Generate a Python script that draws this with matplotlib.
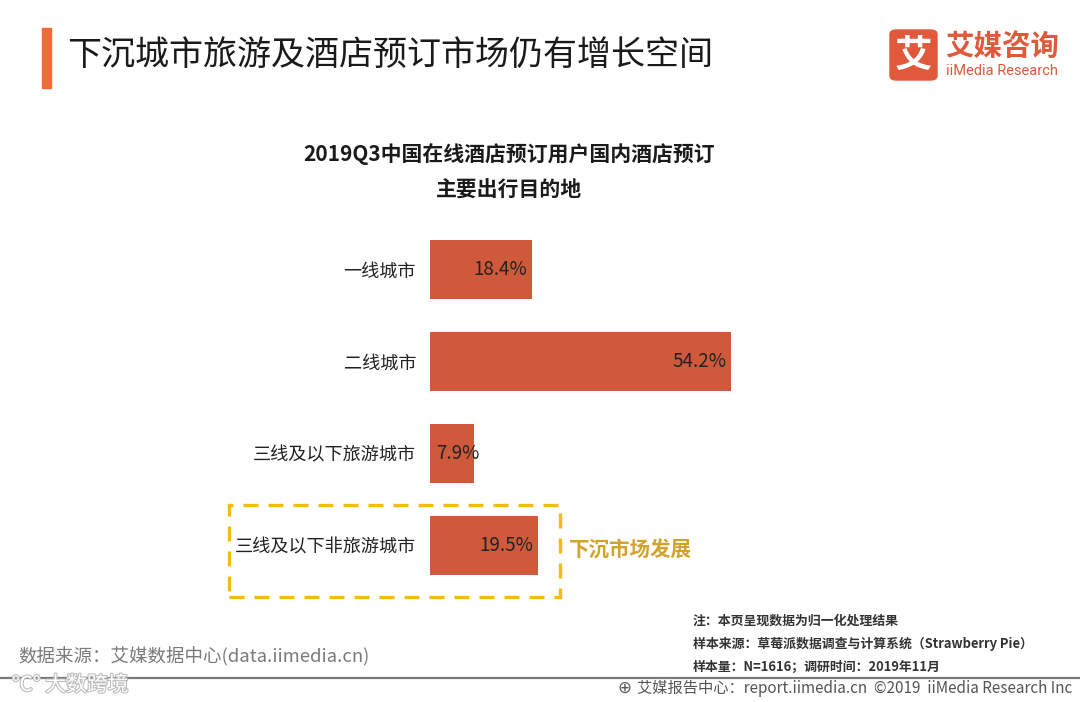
import matplotlib
matplotlib.use("Agg")
import matplotlib.pyplot as plt
from matplotlib.patches import Rectangle, FancyBboxPatch
from matplotlib.transforms import offset_copy
import matplotlib.patheffects as pe

plt.rcParams['font.family'] = ['Noto Sans CJK SC', 'DejaVu Sans']

categories = ['一线城市', '二线城市', '三线及以下旅游城市', '三线及以下非旅游城市']
values = [18.4, 54.2, 7.9, 19.5]
value_labels = ['18.4%', '54.2%', '7.9%', '19.5%']

main_title = '下沉城市旅游及酒店预订市场仍有增长空间'
chart_title = '2019Q3中国在线酒店预订用户国内酒店预订\n主要出行目的地'
highlight_text = '下沉市场发展'
notes = ['注：本页呈现数据为归一化处理结果',
         '样本来源：草莓派数据调查与计算系统（Strawberry Pie）',
         '样本量：N=1616；调研时间：2019年11月']
source = '数据来源：艾媒数据中心(data.iimedia.cn)'
footer = '艾媒报告中心：report.iimedia.cn  ©2019  iiMedia Research Inc'

W, H = 1080, 702
fig = plt.figure(figsize=(W / 100, H / 100), dpi=100)
fig.patch.set_facecolor('white')


def fx(x):
    return x / W


def fy(y):
    return 1 - y / H


BAR = '#CF5A3B'
GOLD = '#F5BA14'

# axes: x 430..731 maps 0..54.2 ; y centers at 269.5 + 92*i
top, bottom = 223.5, 591.5
ax = fig.add_axes([fx(430), fy(bottom), fx(731) - fx(430), (bottom - top) / H])
ypos = list(range(len(categories)))
ax.barh(ypos, values, height=0.64, color=BAR)
ax.set_xlim(0, 54.2)
ax.set_ylim(len(categories) - 0.5, -0.5)
for s in ax.spines.values():
    s.set_visible(False)
ax.set_xticks([])
ax.set_yticks(ypos)
ax.set_yticklabels(categories, fontsize=13.1, color='#222222')
ax.tick_params(axis='y', length=0, pad=10)

for i, (v, lab) in enumerate(zip(values, value_labels)):
    if v < 10:
        t = offset_copy(ax.transData, fig=fig, x=6, y=0, units='dots')
        ax.text(0, i, lab, transform=t, ha='left', va='center', fontsize=13.5, color='#222222')
    else:
        t = offset_copy(ax.transData, fig=fig, x=-5, y=0, units='dots')
        ax.text(v, i, lab, transform=t, ha='right', va='center', fontsize=13.5, color='#222222')

# header
fig.patches.append(Rectangle((fx(42), fy(88)), fx(9), (88 - 28) / H, transform=fig.transFigure,
                             color='#F26A35', zorder=5))
fig.text(fx(67), fy(55), main_title, fontsize=24.5, color='#1a1a1a', va='center', ha='left')

# logo
fig.patches.append(FancyBboxPatch((fx(890), fy(80)), fx(47), 50 / H, boxstyle='round,pad=0,rounding_size=0.006',
                                  transform=fig.transFigure, color='#E0593A', zorder=5))
fig.text(fx(913.5), fy(55), '艾', fontsize=27, color='white', fontweight='bold', ha='center', va='center', zorder=6)
fig.text(fx(945), fy(47), '艾媒咨询', fontsize=20.5, color='#E0593A', fontweight='bold', ha='left', va='center')
fig.text(fx(946), fy(71), 'iiMedia Research', fontsize=10.5, color='#E0593A', ha='left', va='center',
         family=['Roboto', 'DejaVu Sans'])

# chart title
fig.text(fx(509), fy(172), chart_title, fontsize=15, fontweight='bold', color='#1a1a1a',
         ha='center', va='center', linespacing=1.85)

# dashed highlight box
box = Rectangle((fx(229), fy(597)), fx(560 - 229), (597 - 505) / H, transform=fig.transFigure,
                fill=False, edgecolor=GOLD, linewidth=2.4, linestyle=(0, (4.5, 3)), zorder=5)
fig.patches.append(box)
fig.text(fx(569), fy(550), highlight_text, fontsize=14.8, color='#D2A22A', fontweight='bold',
         ha='left', va='center')

# notes
for k, n in enumerate(notes):
    fig.text(fx(693), fy(621 + 23 * k), n, fontsize=9.3, fontweight='bold', color='#333333',
             ha='left', va='center')

fig.text(fx(18), fy(657), source, fontsize=13.3, color='#7a7a7a', ha='left', va='center')

# divider line
fig.add_artist(plt.Line2D([0, 1], [fy(678), fy(678)], transform=fig.transFigure, color='#7a7a7a', linewidth=1.6))

# watermark
fig.text(fx(12), fy(685), '℃° 大数跨境', fontsize=15, color='white', ha='left', va='center',
         path_effects=[pe.withStroke(linewidth=1.5, foreground='#bbbbbb')])

# footer
fig.text(fx(617), fy(688), '⊕', fontsize=12, color='#555555', ha='left', va='center',
         family=['DejaVu Sans'])
fig.text(fx(637), fy(688), footer, fontsize=11, color='#555555', ha='left', va='center')

fig.savefig('out.png', dpi=100, facecolor='white')
